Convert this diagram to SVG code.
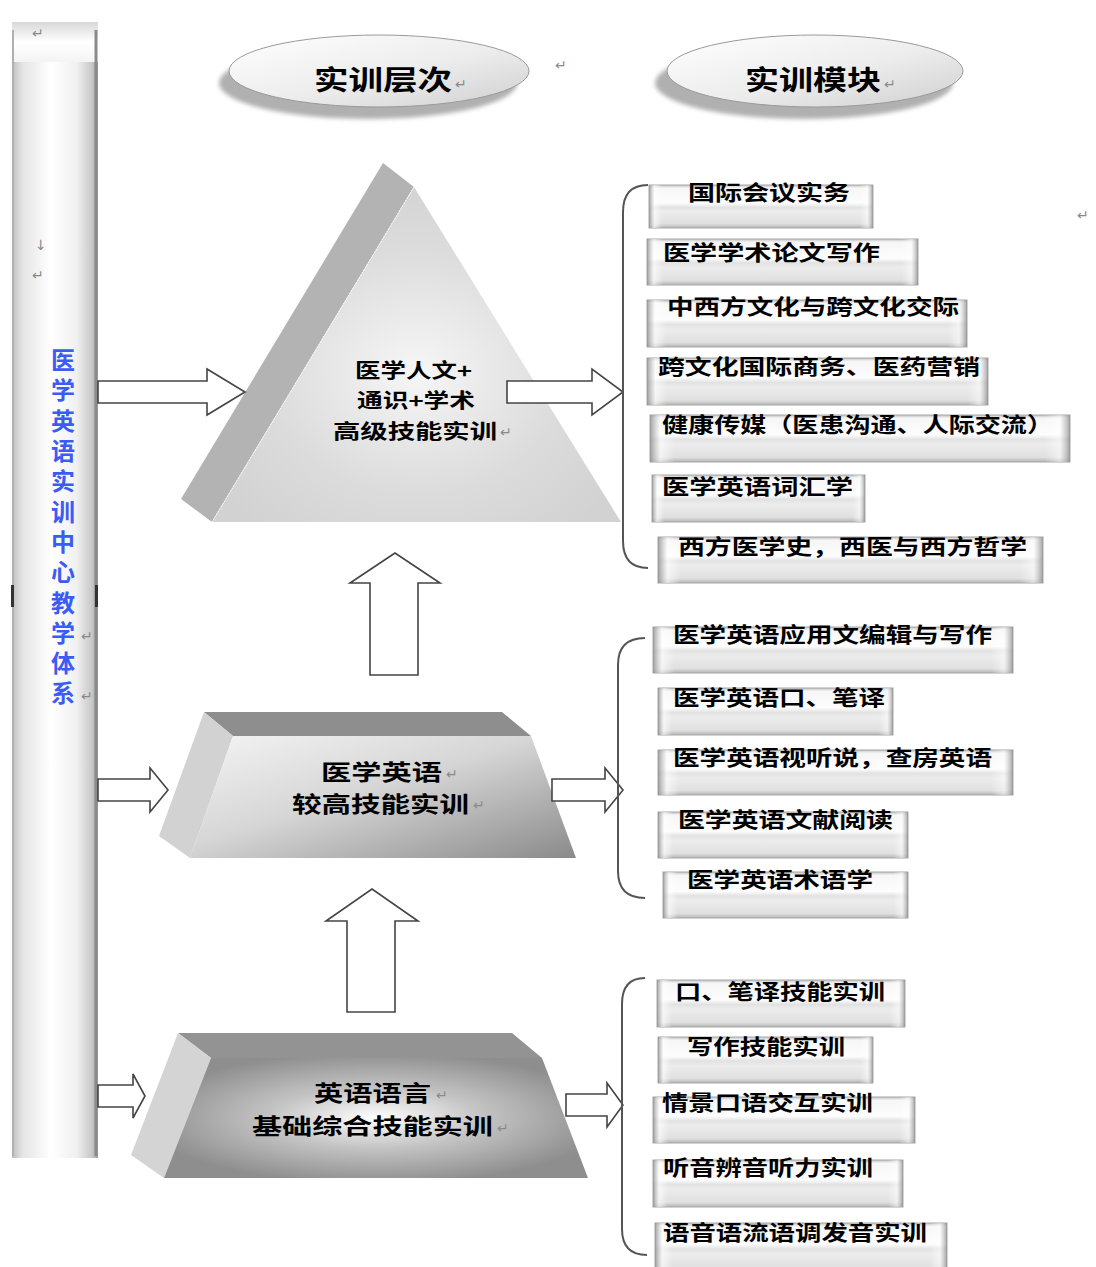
<svg xmlns="http://www.w3.org/2000/svg" width="1096" height="1267" viewBox="0 0 1096 1267">
<defs>
<linearGradient id="barG" x1="0" y1="0" x2="1" y2="0">
<stop offset="0" stop-color="#bdbdbd"/><stop offset="0.12" stop-color="#e4e4e4"/><stop offset="0.45" stop-color="#ffffff"/><stop offset="0.75" stop-color="#f0f0f0"/><stop offset="0.93" stop-color="#c8c8c8"/><stop offset="1" stop-color="#9a9a9a"/>
</linearGradient>
<linearGradient id="capG" x1="0" y1="0" x2="0" y2="1">
<stop offset="0" stop-color="#d8d8d8"/><stop offset="0.5" stop-color="#ffffff"/><stop offset="1" stop-color="#f4f4f4"/>
</linearGradient>
<linearGradient id="ellG" x1="0" y1="0" x2="1" y2="1">
<stop offset="0" stop-color="#ffffff"/><stop offset="0.55" stop-color="#ececec"/><stop offset="1" stop-color="#cfcfcf"/>
</linearGradient>
<radialGradient id="triG" cx="0.5" cy="0.55" r="0.6">
<stop offset="0" stop-color="#f6f6f6"/><stop offset="0.6" stop-color="#dcdcdc"/><stop offset="1" stop-color="#d2d2d2"/>
</radialGradient>
<linearGradient id="midG" x1="0" y1="0" x2="1" y2="1">
<stop offset="0" stop-color="#f4f4f4"/><stop offset="0.45" stop-color="#d6d6d6"/><stop offset="1" stop-color="#8a8a8a"/>
</linearGradient>
<radialGradient id="botG" cx="0.5" cy="0.5" r="0.55">
<stop offset="0" stop-color="#ffffff"/><stop offset="0.45" stop-color="#c4c4c4"/><stop offset="1" stop-color="#8e8e8e"/>
</radialGradient>
<linearGradient id="boxV" x1="0" y1="0" x2="0" y2="1">
<stop offset="0" stop-color="#c2c2c2"/><stop offset="0.07" stop-color="#f6f6f6"/><stop offset="0.42" stop-color="#fdfdfd"/><stop offset="0.52" stop-color="#e2e2e2"/><stop offset="0.62" stop-color="#ececec"/><stop offset="0.9" stop-color="#e0e0e0"/><stop offset="1" stop-color="#b4b4b4"/>
</linearGradient>
<linearGradient id="boxH" x1="0" y1="0" x2="1" y2="0">
<stop offset="0" stop-color="#8c8c8c" stop-opacity="0.8"/><stop offset="0.025" stop-color="#ffffff" stop-opacity="0.6"/><stop offset="0.06" stop-color="#ffffff" stop-opacity="0"/><stop offset="0.94" stop-color="#ffffff" stop-opacity="0"/><stop offset="0.975" stop-color="#ffffff" stop-opacity="0.5"/><stop offset="1" stop-color="#8c8c8c" stop-opacity="0.8"/>
</linearGradient>
<filter id="blur" x="-10%" y="-20%" width="120%" height="140%"><feGaussianBlur stdDeviation="2"/></filter>
<style>
.cjk{font-family:'Noto Sans CJK SC','Noto Sans',sans-serif;font-weight:bold;fill:#000}
.mt{font-size:21px}
.tt{font-size:20px}
.lt{font-size:22px}
.ht{font-size:27px}
.vt{font-family:'Noto Sans CJK SC','Noto Sans',sans-serif;font-weight:bold;font-size:24px;fill:#3a5cf5;writing-mode:vertical-rl;letter-spacing:6.3px}
.pm{font-family:'DejaVu Sans',sans-serif;font-size:14px;fill:#8a8a8a}
.mo{fill:url(#boxV);stroke:#a8a8a8;stroke-width:1}
.me{fill:url(#boxH)}
.arr{fill:#ffffff;stroke:#444;stroke-width:1.6;stroke-linejoin:miter}
.brk{fill:none;stroke:#555;stroke-width:2}
</style>
</defs>
<rect width="1096" height="1267" fill="#ffffff"/>

<g id="sidebar">
<rect x="12" y="22" width="86" height="1136" fill="url(#barG)"/>
<rect x="12" y="22" width="86" height="40" fill="url(#capG)"/>
<line x1="96" y1="30" x2="96" y2="1156" stroke="#8a8a8a" stroke-width="3"/>
<line x1="13" y1="30" x2="13" y2="1156" stroke="#b0b0b0" stroke-width="2"/>
<rect x="11" y="585" width="3" height="22" fill="#333"/>
<rect x="95" y="585" width="3" height="22" fill="#333"/>
<text class="vt" x="63" y="348">医学英语实训中心教学体系</text>
<text class="pm" x="32" y="38">↵</text>
<text class="pm" x="35" y="250">↓</text>
<text class="pm" x="32" y="280">↵</text>
<text class="pm" x="81" y="641">↵</text>
<text class="pm" x="81" y="701">↵</text>
</g>

<g id="hdr-level">
<ellipse cx="368" cy="83" rx="149" ry="36" fill="#b0b0b0" filter="url(#blur)"/>
<ellipse cx="379" cy="71" rx="150" ry="36" fill="url(#ellG)" stroke="#9a9a9a" stroke-width="1"/>
<text class="cjk ht" x="314" y="90" textLength="138" lengthAdjust="spacingAndGlyphs">实训层次</text>
<text class="pm" x="455" y="89">↵</text>
</g>
<text class="pm" x="555" y="70">↵</text>
<text class="pm" x="1077" y="220">↵</text>

<g id="hdr-module">
<ellipse cx="804" cy="83" rx="149" ry="36" fill="#b0b0b0" filter="url(#blur)"/>
<ellipse cx="815" cy="71" rx="148" ry="36" fill="url(#ellG)" stroke="#9a9a9a" stroke-width="1"/>
<text class="cjk ht" x="745" y="90" textLength="136" lengthAdjust="spacingAndGlyphs">实训模块</text>
<text class="pm" x="884" y="89">↵</text>
</g>

<g id="level3">
<polygon points="383,163 414,187 212,522 181,499" fill="#b3b3b3"/>
<polygon points="414,187 621,522 212,522" fill="url(#triG)"/>
<line x1="414" y1="187" x2="212" y2="522" stroke="#ffffff" stroke-width="1" stroke-dasharray="2,1"/>
<text class="cjk tt" x="355" y="378" textLength="117" lengthAdjust="spacingAndGlyphs">医学人文+</text>
<text class="cjk tt" x="357" y="408" textLength="118" lengthAdjust="spacingAndGlyphs">通识+学术</text>
<text class="cjk tt" x="333" y="439" textLength="164" lengthAdjust="spacingAndGlyphs">高级技能实训</text>
<text class="pm" x="500" y="437">↵</text>
</g>

<g id="level2">
<polygon points="204,712 502,712 531,736 233,736" fill="#8e8e8e"/>
<polygon points="204,712 233,736 190,858 159,836" fill="#d2d2d2"/>
<polygon points="233,736 531,736 576,858 190,858" fill="url(#midG)"/>
<text class="cjk lt" x="321" y="780" textLength="121" lengthAdjust="spacingAndGlyphs">医学英语</text>
<text class="cjk lt" x="292" y="812" textLength="177" lengthAdjust="spacingAndGlyphs">较高技能实训</text>
<text class="pm" x="446" y="779">↵</text>
<text class="pm" x="473" y="810">↵</text>
</g>

<g id="level1">
<polygon points="178,1033 512,1033 542,1058 211,1058" fill="#939393"/>
<polygon points="178,1033 211,1058 164,1178 131,1155" fill="#d4d4d4"/>
<polygon points="211,1058 542,1058 588,1178 164,1178" fill="url(#botG)"/>
<text class="cjk lt" x="314" y="1101" textLength="117" lengthAdjust="spacingAndGlyphs">英语语言</text>
<text class="cjk lt" x="252" y="1134" textLength="241" lengthAdjust="spacingAndGlyphs">基础综合技能实训</text>
<text class="pm" x="436" y="1100">↵</text>
<text class="pm" x="497" y="1133">↵</text>
</g>

<g id="m1"><rect class="mo" x="649" y="185" width="224" height="43"/><rect class="me" x="649" y="185" width="224" height="43"/><text class="cjk mt" x="688" y="200" textLength="162" lengthAdjust="spacingAndGlyphs">国际会议实务</text></g>
<g id="m2"><rect class="mo" x="647" y="239" width="271" height="46"/><rect class="me" x="647" y="239" width="271" height="46"/><text class="cjk mt" x="663" y="260" textLength="217" lengthAdjust="spacingAndGlyphs">医学学术论文写作</text></g>
<g id="m3"><rect class="mo" x="647" y="300" width="320" height="47"/><rect class="me" x="647" y="300" width="320" height="47"/><text class="cjk mt" x="667" y="314" textLength="292" lengthAdjust="spacingAndGlyphs">中西方文化与跨文化交际</text></g>
<g id="m4"><rect class="mo" x="647" y="358" width="341" height="47"/><rect class="me" x="647" y="358" width="341" height="47"/><text class="cjk mt" x="658" y="374" textLength="322" lengthAdjust="spacingAndGlyphs">跨文化国际商务、医药营销</text></g>
<g id="m5"><rect class="mo" x="650" y="415" width="420" height="47"/><rect class="me" x="650" y="415" width="420" height="47"/><text class="cjk mt" x="662" y="432" textLength="391" lengthAdjust="spacingAndGlyphs">健康传媒（医患沟通、人际交流）</text></g>
<g id="m6"><rect class="mo" x="652" y="475" width="213" height="47"/><rect class="me" x="652" y="475" width="213" height="47"/><text class="cjk mt" x="662" y="494" textLength="191" lengthAdjust="spacingAndGlyphs">医学英语词汇学</text></g>
<g id="m7"><rect class="mo" x="658" y="537" width="385" height="46"/><rect class="me" x="658" y="537" width="385" height="46"/><text class="cjk mt" x="678" y="554" textLength="349" lengthAdjust="spacingAndGlyphs">西方医学史，西医与西方哲学</text></g>
<g id="m8"><rect class="mo" x="653" y="627" width="360" height="46"/><rect class="me" x="653" y="627" width="360" height="46"/><text class="cjk mt" x="673" y="642" textLength="319" lengthAdjust="spacingAndGlyphs">医学英语应用文编辑与写作</text></g>
<g id="m9"><rect class="mo" x="658" y="688" width="235" height="47"/><rect class="me" x="658" y="688" width="235" height="47"/><text class="cjk mt" x="673" y="705" textLength="212" lengthAdjust="spacingAndGlyphs">医学英语口、笔译</text></g>
<g id="m10"><rect class="mo" x="658" y="750" width="355" height="45"/><rect class="me" x="658" y="750" width="355" height="45"/><text class="cjk mt" x="673" y="765" textLength="319" lengthAdjust="spacingAndGlyphs">医学英语视听说，查房英语</text></g>
<g id="m11"><rect class="mo" x="658" y="812" width="250" height="46"/><rect class="me" x="658" y="812" width="250" height="46"/><text class="cjk mt" x="678" y="827" textLength="215" lengthAdjust="spacingAndGlyphs">医学英语文献阅读</text></g>
<g id="m12"><rect class="mo" x="663" y="872" width="245" height="46"/><rect class="me" x="663" y="872" width="245" height="46"/><text class="cjk mt" x="687" y="887" textLength="186" lengthAdjust="spacingAndGlyphs">医学英语术语学</text></g>
<g id="m13"><rect class="mo" x="657" y="980" width="248" height="47"/><rect class="me" x="657" y="980" width="248" height="47"/><text class="cjk mt" x="675" y="999" textLength="210" lengthAdjust="spacingAndGlyphs">口、笔译技能实训</text></g>
<g id="m14"><rect class="mo" x="658" y="1037" width="215" height="46"/><rect class="me" x="658" y="1037" width="215" height="46"/><text class="cjk mt" x="687" y="1054" textLength="158" lengthAdjust="spacingAndGlyphs">写作技能实训</text></g>
<g id="m15"><rect class="mo" x="653" y="1097" width="262" height="46"/><rect class="me" x="653" y="1097" width="262" height="46"/><text class="cjk mt" x="662" y="1110" textLength="211" lengthAdjust="spacingAndGlyphs">情景口语交互实训</text></g>
<g id="m16"><rect class="mo" x="653" y="1160" width="250" height="47"/><rect class="me" x="653" y="1160" width="250" height="47"/><text class="cjk mt" x="663" y="1175" textLength="210" lengthAdjust="spacingAndGlyphs">听音辨音听力实训</text></g>
<g id="m17"><rect class="mo" x="655" y="1223" width="292" height="50"/><rect class="me" x="655" y="1223" width="292" height="50"/><text class="cjk mt" x="663" y="1240" textLength="264" lengthAdjust="spacingAndGlyphs">语音语流语调发音实训</text></g>

<g id="connectors">
<path class="arr" d="M98,381 H207 V369 L245,392 L207,415 V403 H98 Z"/>
<path class="arr" d="M507,381 H592 V369 L623,392 L592,415 V403 H507 Z"/>
<path class="arr" d="M98,779 H150 V768 L168,790 L150,812 V801 H98 Z"/>
<path class="arr" d="M552,779 H605 V768 L623,790 L605,812 V801 H552 Z"/>
<path class="arr" d="M98,1085 H133 V1074 L145,1096 L133,1118 V1107 H98 Z"/>
<path class="arr" d="M566,1094 H607 V1083 L623,1105 L607,1127 V1116 H566 Z"/>
<path class="arr" d="M370,675 V583 H350 L395,553 L440,583 H418 V675 Z"/>
<path class="arr" d="M347,1012 V921 H326 L372,889 L418,921 H395 V1012 Z"/>
<path class="brk" d="M648,185 Q623,185 623,212 V541 Q623,568 648,568"/>
<path class="brk" d="M645,638 Q618,638 618,665 V871 Q618,898 645,898"/>
<path class="brk" d="M645,978 Q622,978 622,1004 V1229 Q622,1255 647,1255"/>
</g>
</svg>
